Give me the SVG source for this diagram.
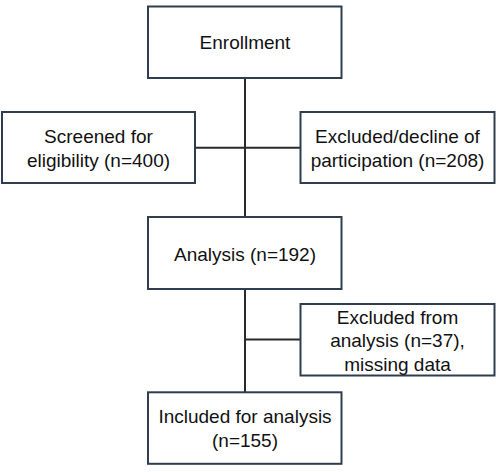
<svg xmlns="http://www.w3.org/2000/svg" width="496" height="472" viewBox="0 0 496 472">
<style>
.box{fill:#fff;stroke:#2e3e4e;stroke-width:2}
.ln{stroke:#2a2a2a;stroke-width:2;fill:none}
text{font-family:"Liberation Sans",Arial,sans-serif;font-size:19px;fill:#111;text-anchor:middle}
</style>
<rect width="496" height="472" fill="#fff"/>
<g id="connectors">
<line class="ln" x1="245" y1="78" x2="245" y2="217"/>
<line class="ln" x1="195" y1="147.7" x2="300.5" y2="147.7"/>
<line class="ln" x1="245" y1="289" x2="245" y2="392"/>
<line class="ln" x1="245" y1="339.5" x2="300.5" y2="339.5"/>
</g>
<g id="enrollment">
<rect class="box" x="148" y="6.5" width="193.5" height="71.5"/>
<text x="245" y="49.3">Enrollment</text>
</g>
<g id="screened">
<rect class="box" x="2" y="112" width="193" height="71"/>
<text x="98.5" y="143.3">Screened for</text>
<text x="98.5" y="166.7">eligibility (n=400)</text>
</g>
<g id="excluded1">
<rect class="box" x="300.5" y="112" width="194" height="71"/>
<text x="397.5" y="143.3">Excluded/decline of</text>
<text x="397.5" y="166.7">participation (n=208)</text>
</g>
<g id="analysis">
<rect class="box" x="148" y="217" width="193.5" height="72"/>
<text x="245" y="261">Analysis (n=192)</text>
</g>
<g id="excluded2">
<rect class="box" x="300.5" y="304" width="194" height="71.5"/>
<text x="397.5" y="324">Excluded from</text>
<text x="397.5" y="347.3">analysis (n=37),</text>
<text x="397.5" y="370.5">missing data</text>
</g>
<g id="included">
<rect class="box" x="148" y="392.3" width="193.5" height="71.5"/>
<text x="245" y="423.3">Included for analysis</text>
<text x="245" y="446.7">(n=155)</text>
</g>
</svg>
